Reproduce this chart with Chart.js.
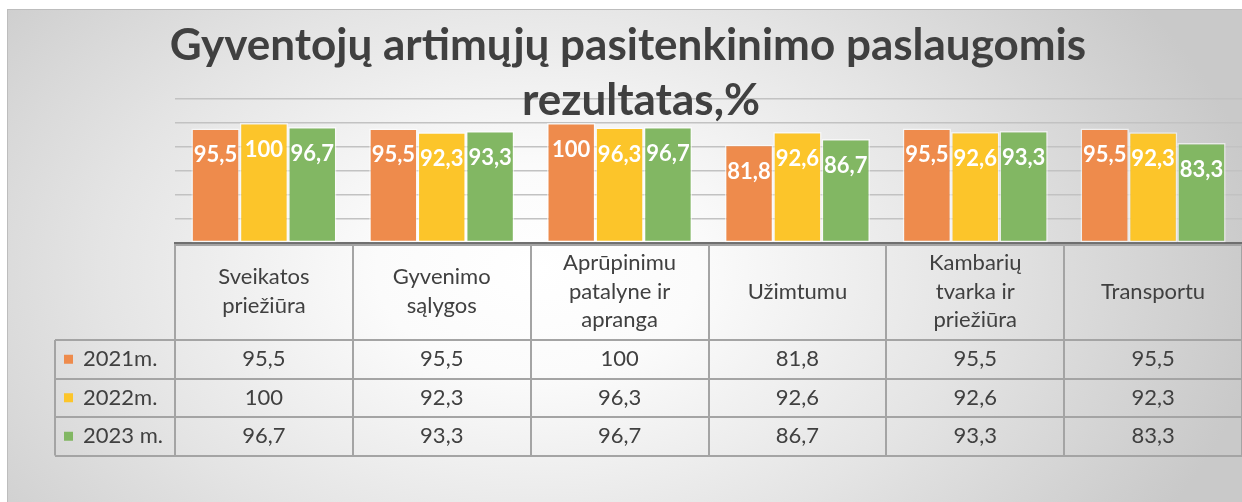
<!DOCTYPE html>
<html lang="lt">
<head>
<meta charset="UTF-8">
<title>Gyventojų artimųjų pasitenkinimo paslaugomis rezultatas</title>
<script src="https://cdn.jsdelivr.net/npm/chart.js"></script>
<style>
  body { margin: 0; background: #fff; }
  #wrap { position: relative; width: 1242px; height: 502px; overflow: hidden; }
  #frame {
    position: absolute; left: 7px; top: 9px; width: 1260px; height: 500px;
    border-top: 1px solid #bdbdbd; border-left: 1px solid #bdbdbd;
    background: radial-gradient(ellipse 58% 95% at 42% 52%, #ffffff 0%, #fbfbfb 22%, #e4e4e4 60%, #c9c9c9 100%);
  }
  #chart { position: absolute; left: 0; top: 0; }
</style>
</head>
<body>
<div id="wrap">
  <div id="frame"></div>
  <canvas id="chart" width="1242" height="502"></canvas>
</div>

<script>
// data
const titleLines = ['Gyventojų artimųjų pasitenkinimo paslaugomis', 'rezultatas,%'];
const categories = [
  ['Sveikatos', 'priežiūra'],
  ['Gyvenimo', 'sąlygos'],
  ['Aprūpinimu', 'patalyne ir', 'apranga'],
  ['Užimtumu'],
  ['Kambarių', 'tvarka ir', 'priežiūra'],
  ['Transportu']
];
const seriesNames = ['2021m.', '2022m.', '2023 m.'];
const values2021 = [95.5, 95.5, 100, 81.8, 95.5, 95.5];
const values2022 = [100, 92.3, 96.3, 92.6, 92.6, 92.3];
const values2023 = [96.7, 93.3, 96.7, 86.7, 93.3, 83.3];
const yTicks = [0, 20, 40, 60, 80, 100, 120];

const colors = ['#ee8b4c', '#fcc52a', '#82b763'];
const fmt = v => String(v).replace('.', ',');

// title + data labels + data table drawn on canvas
const tablePlugin = {
  id: 'tablePlugin',
  beforeDatasetsDraw(chart) {
    const ctx = chart.ctx;
    ctx.save();
    ctx.fillStyle = '#404040';
    ctx.font = 'bold 44px Lato';
    ctx.textAlign = 'center';
    ctx.textBaseline = 'alphabetic';
    ctx.fillText(titleLines[0], 628, 60);
    ctx.fillText(titleLines[1], 641, 115);
    ctx.restore();
  },
  afterDatasetsDraw(chart) {
    const ctx = chart.ctx;
    const x = chart.scales.x;
    const area = chart.chartArea;

    // labels inside bars
    ctx.save();
    ctx.fillStyle = '#ffffff';
    ctx.font = 'bold 22px Lato';
    ctx.textAlign = 'center';
    ctx.textBaseline = 'middle';
    chart.data.datasets.forEach((ds, di) => {
      chart.getDatasetMeta(di).data.forEach((bar, i) => {
        ctx.fillText(fmt(ds.data[i]), bar.x, bar.y + 27);
      });
    });
    ctx.restore();

    // table
    const step = x.getPixelForValue(1) - x.getPixelForValue(0);
    const top = area.bottom;
    const headH = 97;
    const rowH = 38.5;
    const bottom = top + headH + rowH * 3;
    const legLeft = 55;

    ctx.save();
    ctx.strokeStyle = '#a4a4a4';
    ctx.lineWidth = 2;
    ctx.beginPath();
    // vertical lines
    for (let i = 0; i <= categories.length; i++) {
      const px = Math.round(x.getPixelForValue(i) - step / 2);
      ctx.moveTo(px, top + 1);
      ctx.lineTo(px, bottom);
    }
    ctx.moveTo(legLeft, top + headH);
    ctx.lineTo(legLeft, bottom);
    // horizontal lines
    ctx.moveTo(area.left, top + 2);
    ctx.lineTo(area.right, top + 2);
    for (let r = 0; r <= 3; r++) {
      const py = Math.round(top + headH + rowH * r);
      ctx.moveTo(legLeft, py);
      ctx.lineTo(area.right, py);
    }
    ctx.stroke();

    ctx.fillStyle = '#404040';
    ctx.font = '22px Lato';
    ctx.textAlign = 'center';
    ctx.textBaseline = 'middle';
    categories.forEach((lines, i) => {
      const cx = x.getPixelForValue(i);
      const lh = 28.5;
      const y0 = top + headH / 2 - (lines.length - 1) * lh / 2;
      lines.forEach((t, k) => ctx.fillText(t, cx, y0 + k * lh));
    });

    const rows = [values2021, values2022, values2023];
    rows.forEach((vals, r) => {
      const cy = top + headH + rowH * r + rowH / 2;
      vals.forEach((v, i) => ctx.fillText(fmt(v), x.getPixelForValue(i), cy));
      ctx.fillStyle = colors[r];
      ctx.fillRect(64, cy - 4.5, 9, 9);
      ctx.fillStyle = '#404040';
      ctx.textAlign = 'left';
      ctx.fillText(seriesNames[r], 83, cy);
      ctx.textAlign = 'center';
    });
    ctx.restore();
  }
};

new Chart(document.getElementById('chart'), {
  type: 'bar',
  data: {
    labels: categories,
    datasets: [values2021, values2022, values2023].map((d, i) => ({
      label: seriesNames[i],
      data: d,
      backgroundColor: colors[i],
      borderColor: 'rgba(255,255,255,0.6)',
      borderWidth: 1.5,
      borderSkipped: false,
      categoryPercentage: 0.816,
      barPercentage: 1
    }))
  },
  options: {
    responsive: false,
    animation: false,
    layout: { padding: { left: 175, right: 0, top: 99, bottom: 259 } },
    plugins: {
      legend: { display: false },
      title: { display: false },
      tooltip: { enabled: false }
    },
    scales: {
      x: {
        ticks: { display: false },
        grid: { display: false, drawTicks: false },
        border: { display: true, color: '#6f6f6f', width: 2 }
      },
      y: {
        min: yTicks[0],
        max: yTicks[yTicks.length - 1],
        afterBuildTicks: axis => { axis.ticks = yTicks.map(v => ({ value: v })); },
        ticks: { display: false },
        grid: { color: '#c2c2c2', lineWidth: 1.5, drawTicks: false },
        border: { display: false }
      }
    }
  },
  plugins: [tablePlugin]
});
</script>
</body>
</html>
